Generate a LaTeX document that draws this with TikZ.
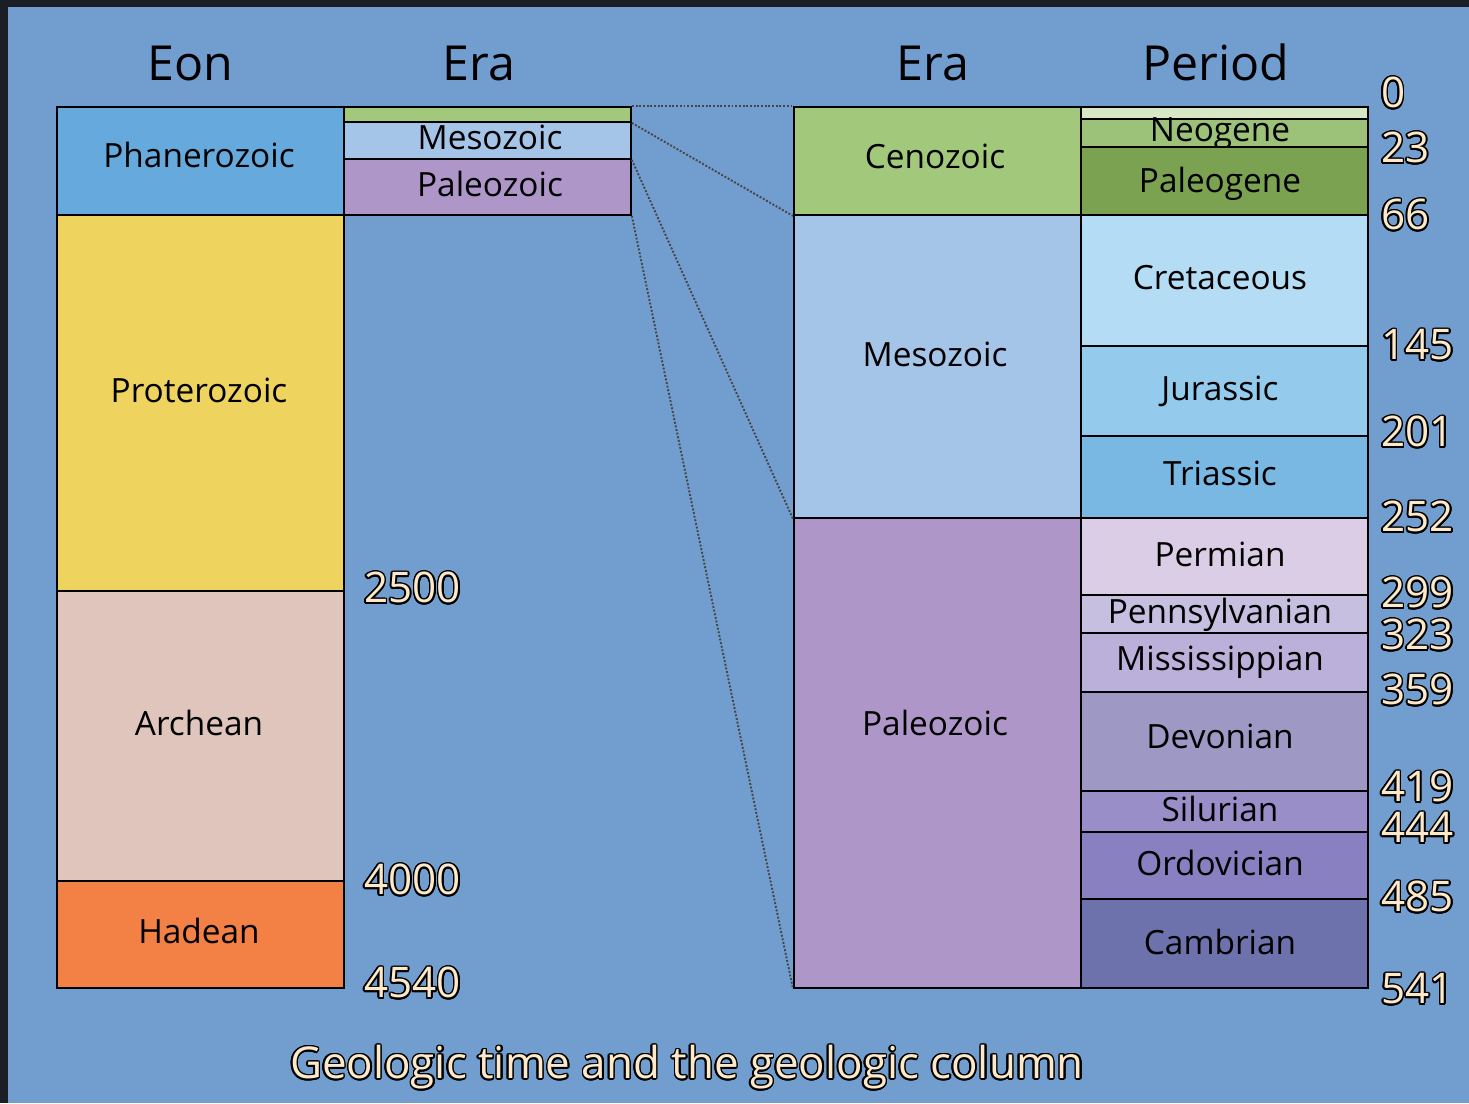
\documentclass[tikz,border=0pt]{standalone}
\usepackage{fontspec}
\setmainfont{Open Sans}
\usepackage{contour}
\contourlength{0.9pt}
\usetikzlibrary{positioning}

\definecolor{frame}{RGB}{27,30,37}
\definecolor{backblue}{RGB}{114,158,207}
\definecolor{cream}{RGB}{253,233,201}
\definecolor{zoomgray}{RGB}{70,70,70}
% eons
\definecolor{phanero}{RGB}{102,170,221}
\definecolor{protero}{RGB}{238,211,95}
\definecolor{archean}{RGB}{223,197,187}
\definecolor{hadean}{RGB}{243,129,69}
% eras
\definecolor{ceno}{RGB}{162,201,123}
\definecolor{meso}{RGB}{164,196,232}
\definecolor{paleo}{RGB}{174,151,200}
% periods
\definecolor{quat}{RGB}{216,232,196}
\definecolor{neo}{RGB}{156,194,122}
\definecolor{paleog}{RGB}{122,162,81}
\definecolor{creta}{RGB}{180,220,245}
\definecolor{jura}{RGB}{148,203,236}
\definecolor{trias}{RGB}{122,184,228}
\definecolor{perm}{RGB}{220,205,230}
\definecolor{penn}{RGB}{198,191,224}
\definecolor{missi}{RGB}{186,176,217}
\definecolor{devo}{RGB}{158,152,196}
\definecolor{silu}{RGB}{154,142,200}
\definecolor{ordo}{RGB}{136,128,192}
\definecolor{camb}{RGB}{110,114,172}

\tikzset{
  unit/.style={draw=black, line width=1.1pt, fill=#1, minimum width=5.74cm, inner sep=0pt, anchor=north west},
  tag/.style={font=\fontsize{19}{19}\selectfont, text height=13.5pt, text depth=0pt, inner sep=0pt},
  head/.style={font=\fontsize{27.5}{27.5}\selectfont, text height=19.5pt, text depth=0pt, inner sep=0pt},
  age/.style={font=\fontsize{24}{24}\selectfont, text height=17pt, text depth=0pt, inner sep=0pt, anchor=west},
  zoomline/.style={draw=zoomgray, line width=1.1pt, densely dotted}
}
\newcommand{\outl}[1]{\contour{black}{\textcolor{cream}{#1}}}

\begin{document}
\begin{tikzpicture}[x=0.02cm, y=-0.02cm]
  \fill[frame] (0,0) rectangle (1469,1103);
  \fill[backblue] (8,7) rectangle (1469,1103);
  \useasboundingbox (0,0) rectangle (1469,1103);

  % headers
  \node[head] (eonhead) at (190,63) {Eon};
  \node[head] (erahead) at (479,63) {Era};
  \node[head] (erahead2) at (933,63) {Era};
  \node[head] (perhead) at (1216,63) {Period};

  % eons
  \foreach \n/\t/\b/\c/\s/\y in {
      phan/106/214/phanero/Phanerozoic/156,
      prot/214/590/protero/Proterozoic/391,
      arch/590/880/archean/Archean/724,
      hade/880/987/hadean/Hadean/932}{
    \node[unit=\c, minimum height={(\b-\t)*0.02cm}] (\n) at (56,\t) {};
    \node[tag] at (199,\y) {\s};
  }

  % eras, small scale
  \node[unit=ceno, minimum height={15*0.02cm}] (lceno) at (343,106) {};
  \node[unit=meso, minimum height={37*0.02cm}] (lmeso) at (343,121) {};
  \node[tag] at (490,138) {Mesozoic};
  \node[unit=paleo, minimum height={56*0.02cm}] (lpaleo) at (343,158) {};
  \node[tag] at (490,185) {Paleozoic};

  % eras, large scale
  \foreach \n/\t/\b/\c/\s/\y in {
      rceno/106/214/ceno/Cenozoic/157,
      rmeso/214/517/meso/Mesozoic/355,
      rpaleo/517/987/paleo/Paleozoic/724}{
    \node[unit=\c, minimum height={(\b-\t)*0.02cm}] (\n) at (793,\t) {};
    \node[tag] at (935,\y) {\s};
  }

  % periods
  \node[unit=quat, minimum height={12*0.02cm}] (quat) at (1080,106) {};
  \foreach \n/\t/\b/\c/\s/\y in {
      neog/118/146/neo/Neogene/130,
      paln/146/214/paleog/Paleogene/181,
      cret/214/345/creta/Cretaceous/278,
      jur/345/435/jura/Jurassic/389,
      tri/435/517/trias/Triassic/474,
      per/517/594/perm/Permian/555,
      pen/594/632/penn/Pennsylvanian/612,
      mis/632/691/missi/Mississippian/659,
      dev/691/790/devo/Devonian/737,
      sil/790/831/silu/Silurian/810,
      ord/831/898/ordo/Ordovician/864,
      cam/898/987/camb/Cambrian/943}{
    \node[unit=\c, minimum height={(\b-\t)*0.02cm}] (\n) at (1080,\t) {};
    \node[tag] at (1220,\y) {\s};
  }

  % zoom lines
  \draw[zoomline] (lceno.north east) -- (rceno.north west);
  \draw[zoomline] (lceno.south east) -- (rceno.south west);
  \draw[zoomline] (lmeso.south east) -- (rmeso.south west);
  \draw[zoomline] (lpaleo.south east) -- (rpaleo.south west);

  % ages
  \node[age] at (364,588) {\outl{2500}};
  \node[age] at (364,880) {\outl{4000}};
  \node[age] at (364,983) {\outl{4540}};
  \foreach \a/\y in {0/93, 23/148, 66/215, 145/345, 201/432, 252/517, 299/593,
      323/635, 359/690, 419/787, 444/828, 485/897, 541/989}{
    \node[age] at (1381,\y) {\outl{\a}};
  }

  \node[font=\fontsize{25}{25}\selectfont, inner sep=0pt] (title) at (687,1068)
    {\outl{Geologic time and the geologic column}};
\end{tikzpicture}
\end{document}
